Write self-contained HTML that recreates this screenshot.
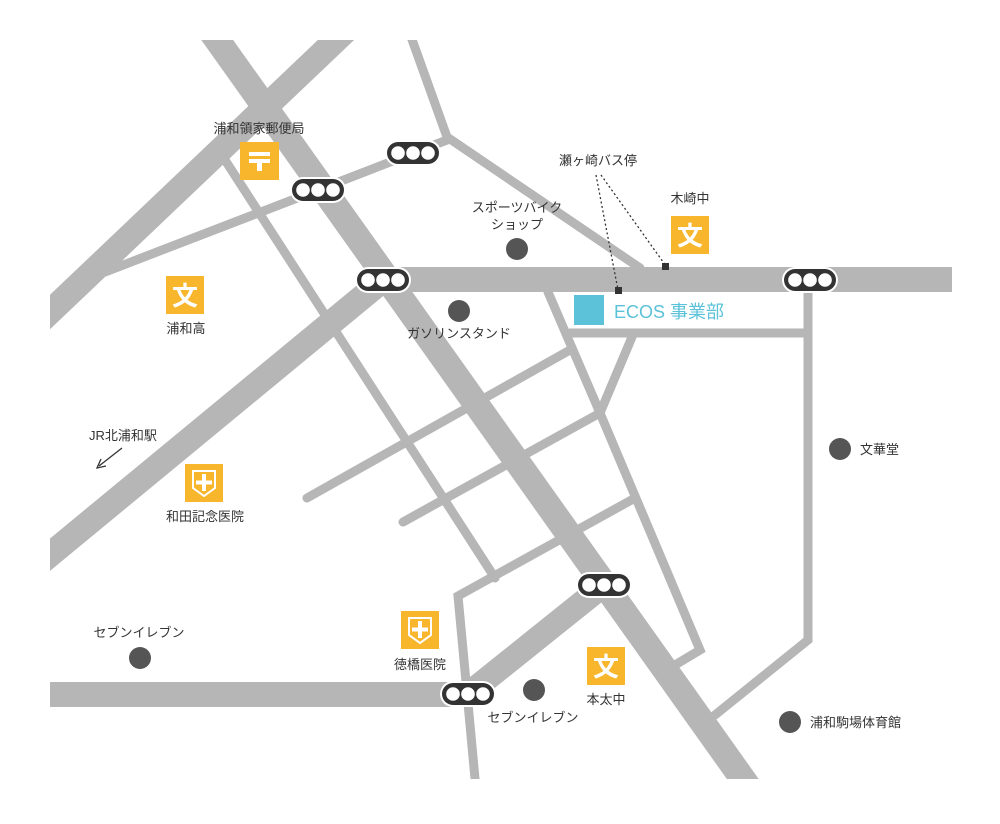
<!DOCTYPE html>
<html><head><meta charset="utf-8"><style>
html,body{margin:0;padding:0;background:#fff;}
svg text{font-family:"Liberation Sans","Noto Sans CJK JP",sans-serif;fill:#333;font-size:13px;}
</style></head><body>
<svg width="1000" height="819" viewBox="0 0 1000 819" xmlns="http://www.w3.org/2000/svg">
<defs>
 <clipPath id="cp"><rect x="50" y="40" width="902" height="739"/></clipPath>
 <g id="tl">
  <rect x="-28" y="-13" width="56" height="26" rx="13" fill="#fff"/>
  <rect x="-26" y="-11" width="52" height="22" rx="11" fill="#333"/>
  <circle cx="-15" cy="0" r="6.8" fill="#fff"/>
  <circle cx="0" cy="0" r="6.8" fill="#fff"/>
  <circle cx="15" cy="0" r="6.8" fill="#fff"/>
 </g>
 <g id="school">
  <rect x="0" y="0" width="38" height="38" fill="#f8b62d"/>
  <text x="19" y="29" text-anchor="middle" style="fill:#fff;font-size:26px;font-weight:bold">文</text>
 </g>
 <g id="hosp">
  <rect x="0" y="0" width="38" height="38" fill="#f8b62d"/>
  <path d="M8 7 H30 V24 L19 32 L8 24 Z" fill="none" stroke="#fff" stroke-width="2"/>
  <rect x="17" y="10" width="4" height="17" fill="#fff"/>
  <rect x="11" y="16.5" width="16" height="4" fill="#fff"/>
 </g>
</defs>
<g stroke="#b5b6b5" fill="none" stroke-linecap="butt" clip-path="url(#cp)">
 <g stroke-width="9" stroke-linecap="round">
  <polyline points="405,20 447,137 640,268"/>
  <polyline points="447,140 318,190 105,272"/>
  <line x1="225" y1="160" x2="495" y2="578"/>
  <polyline points="548,292 600,413 700,650 675,665"/>
  <line x1="632" y1="337" x2="600" y2="413"/>
  <line x1="570" y1="333" x2="808" y2="333"/>
  <polyline points="808,280 808,640 715,715"/>
  <line x1="307" y1="498" x2="570" y2="350"/>
  <line x1="403" y1="522" x2="600" y2="413"/>
  <polyline points="635,498 458,596 477,800"/>
 </g>
 <line x1="203" y1="20" x2="757" y2="799" stroke-width="26"/>
 <line x1="357" y1="20" x2="29" y2="332" stroke-width="25"/>
 <line x1="383" y1="280" x2="29" y2="572" stroke-width="25"/>
 <line x1="383" y1="279.5" x2="952" y2="279.5" stroke-width="25"/>
 <line x1="50" y1="694.5" x2="470" y2="694.5" stroke-width="25"/>
 <line x1="468" y1="694" x2="604" y2="585" stroke-width="24"/>
</g>
<use href="#tl" x="413" y="153"/>
<use href="#tl" x="318" y="190"/>
<use href="#tl" x="383" y="280"/>
<use href="#tl" x="810" y="280"/>
<use href="#tl" x="604" y="585"/>
<use href="#tl" x="468" y="694"/>
<rect x="240" y="142" width="39" height="38" fill="#f8b62d"/>
<rect x="249" y="152" width="21" height="4" fill="#fff"/>
<rect x="249" y="159" width="21" height="4" fill="#fff"/>
<rect x="257" y="159" width="5" height="12" fill="#fff"/>
<use href="#school" x="166" y="276"/>
<use href="#school" x="671" y="216"/>
<use href="#school" x="587" y="647"/>
<use href="#hosp" x="185" y="464"/>
<use href="#hosp" x="401" y="611"/>
<rect x="574" y="295" width="30" height="30" fill="#5bc2d9"/>
<text x="614" y="318" style="fill:#5bc2d9;font-size:18px">ECOS 事業部</text>
<g fill="#555">
 <circle cx="517" cy="249" r="11"/>
 <circle cx="459" cy="311" r="11"/>
 <circle cx="840" cy="449" r="11"/>
 <circle cx="140" cy="658" r="11"/>
 <circle cx="534" cy="690" r="11"/>
 <circle cx="790" cy="722" r="11"/>
</g>
<g stroke="#333" stroke-width="1.3" stroke-dasharray="2,2.5" fill="none">
 <line x1="596" y1="175" x2="618" y2="290"/>
 <line x1="601" y1="175" x2="666" y2="266"/>
</g>
<rect x="615" y="287" width="7" height="7" fill="#333"/>
<rect x="662" y="263" width="7" height="7" fill="#333"/>
<line x1="122" y1="448" x2="99" y2="466" stroke="#333" stroke-width="1.3"/>
<polyline points="101,459 97,468 106,466" fill="none" stroke="#333" stroke-width="1.3"/>
<text x="259" y="133" text-anchor="middle">浦和領家郵便局</text>
<text x="186" y="333" text-anchor="middle">浦和高</text>
<text x="123" y="440" text-anchor="middle">JR北浦和駅</text>
<text x="205" y="521" text-anchor="middle">和田記念医院</text>
<text x="139" y="637" text-anchor="middle">セブンイレブン</text>
<text x="420" y="669" text-anchor="middle">徳橋医院</text>
<text x="533" y="722" text-anchor="middle">セブンイレブン</text>
<text x="606" y="704" text-anchor="middle">本太中</text>
<text x="517" y="212" text-anchor="middle">スポーツバイク</text>
<text x="517" y="229" text-anchor="middle">ショップ</text>
<text x="459" y="338" text-anchor="middle">ガソリンスタンド</text>
<text x="598" y="165" text-anchor="middle">瀬ヶ崎バス停</text>
<text x="690" y="203" text-anchor="middle">木崎中</text>
<text x="860" y="454">文華堂</text>
<text x="810" y="727">浦和駒場体育館</text>
</svg>
</body></html>
